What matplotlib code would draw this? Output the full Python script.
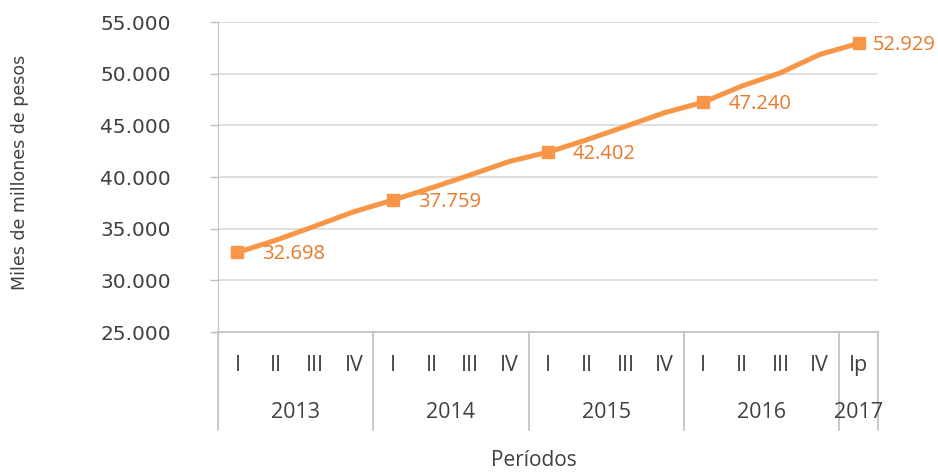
import numpy as np
import matplotlib
matplotlib.use("Agg")
import matplotlib.pyplot as plt
from matplotlib.transforms import blended_transform_factory

# data
quarters = ["I", "II", "III", "IV"] * 4 + ["Ip"]
years = ["2013", "2014", "2015", "2016", "2017"]
year_sizes = [4, 4, 4, 4, 1]
values = [32698, 33900, 35250, 36640,
          37759, 38950, 40200, 41500,
          42402, 43600, 44900, 46220,
          47240, 48810, 50100, 51860,
          52929]
labelled = [0, 4, 8, 12, 16]

line_color = "#F79646"
label_color = "#E8782A"
text_color = "#404040"
grid_color = "#D9D9D9"
cat_font = "Open Sans"

fig = plt.figure(figsize=(9.38, 4.74), dpi=100)
ax = fig.add_axes([218 / 938, 1 - 332 / 474, 660 / 938, 310 / 474])

x = np.arange(len(values))
ax.plot(x, values, color=line_color, lw=3.6, marker="s", markersize=8.5,
        markevery=labelled, solid_joinstyle="round", zorder=3)

for i in labelled:
    # last label is pulled in so it stays inside the figure
    dx = 10 if i == labelled[-1] else 18
    ax.annotate(f"{values[i]:,}".replace(",", "."), (x[i], values[i]),
                xytext=(dx, -1), textcoords="offset points", va="center",
                ha="left", color=label_color, fontsize=14.5, family=cat_font,
                zorder=4)

ax.set_xlim(-0.5, len(values) - 0.5)
ax.set_ylim(25000, 55000)
ax.set_yticks(np.arange(25000, 55001, 5000))
ax.set_yticklabels([f"{v:,}".replace(",", ".") for v in range(25000, 55001, 5000)])
ax.yaxis.grid(True, color=grid_color, lw=1.2)
ax.set_axisbelow(True)
ax.tick_params(axis="y", length=6, width=1, color="#BFBFBF", pad=28,
               labelsize=14.5, labelcolor=text_color)
ax.set_xticks([])

for s in ["top", "right"]:
    ax.spines[s].set_visible(False)
ax.spines["left"].set_color("#BFBFBF")
ax.spines["bottom"].set_color("#BFBFBF")
ax.spines["bottom"].set_linewidth(1.2)

# multi-level category axis
trans = blended_transform_factory(ax.transData, ax.transAxes)
for i, q in enumerate(quarters):
    ax.text(x[i], -0.108, q, transform=trans, ha="center", va="center",
            fontsize=15.5, family=cat_font, color=text_color)

start = 0
bounds = [-0.5]
for yr, n in zip(years, year_sizes):
    mid = start + (n - 1) / 2
    ax.text(mid, -0.26, yr, transform=trans, ha="center", va="center",
            fontsize=15.5, family=cat_font, color=text_color)
    start += n
    bounds.append(start - 0.5)

for b in bounds:
    ax.plot([b, b], [0, -0.316], transform=trans, color="#BFBFBF", lw=1.2,
            clip_on=False)

fig.text(20 / 938, 1 - 172 / 474, "Miles de millones de pesos", rotation=90,
         ha="center", va="center", fontsize=12.5, color=text_color)
fig.text(534 / 938, 1 - 461 / 474, "Períodos", ha="center", va="center",
         fontsize=15, family=cat_font, color=text_color)

fig.savefig("out.png", dpi=100)
